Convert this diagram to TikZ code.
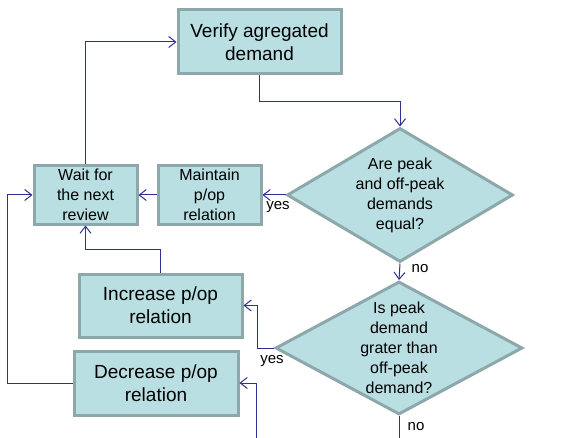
\documentclass[tikz,border=0pt]{standalone}
\usepackage{fontspec}
\setmainfont{Liberation Sans}
\usetikzlibrary{shapes.geometric}
\usetikzlibrary{arrows.meta}
\definecolor{boxfill}{RGB}{185,223,226}
\definecolor{boxline}{RGB}{140,168,170}
\definecolor{flowline}{RGB}{46,49,146}
\tikzset{%
    stepbox/.style={rectangle,draw=boxline,fill=boxfill,line width=3pt,align=center,inner sep=0pt},
    decision/.style={diamond,draw=boxline,fill=boxfill,line width=3pt,inner sep=0pt}
}

\begin{document}
\begin{tikzpicture}[
                x=1pt,y=-1pt,
                flow/.style={draw=flowline,line width=1pt,-{Straight Barb[length=7pt,width=11pt]}},
                bigtxt/.style={font=\fontsize{19}{23}\selectfont},
                smalltxt/.style={font=\fontsize{16}{20}\selectfont},
                lbl/.style={font=\fontsize{15}{18}\selectfont,inner sep=0pt}
            ]
            \useasboundingbox (0,0) rectangle (564,438);
            \node[stepbox,bigtxt,minimum width=163,minimum height=64] (verify) at (259.5,42){Verify agregated\\demand};
            \node[stepbox,smalltxt,minimum width=103,minimum height=58] (wait) at (85.5,195){Wait for\\the next\\review};
            \node[stepbox,smalltxt,minimum width=103,minimum height=58] (maintain) at (209.5,195){Maintain\\p/op\\relation};
            \node[stepbox,bigtxt,minimum width=163,minimum height=63] (increase) at (160.5,305.5){Increase p/op\\relation};
            \node[stepbox,bigtxt,minimum width=164,minimum height=64] (decrease) at (156,383){Decrease p/op\\relation};
            \node[decision,minimum width=226,minimum height=134,
                  label={[smalltxt,align=center]center:{Are peak\\and off-peak\\demands\\equal?}}] (q1) at (400,195){};
            \node[decision,minimum width=247,minimum height=133,
                  label={[smalltxt,align=center]center:{Is peak\\demand\\grater than\\off-peak\\demand?}}] (q2) at (399,348){};
            \coordinate (decin) at (256,438);
            \coordinate (q2out) at (399,438);

            \node[lbl] (yes1) at (278,207){yes};
            \node[lbl] (no1) at (420,269){no};
            \node[lbl] (yes2) at (272,361){yes};
            \node[lbl] (no2) at (416,427){no};

            \draw[flow] (wait.north) |- (verify.west);
            \draw[flow] (verify.south) -- ++(0,26) -| (q1.north);
            \draw[flow] (q1.west) -- (maintain.east);
            \draw[flow] (maintain.west) -- (wait.east);
            \draw[flow] (q1.south) -- (q2.north);
            \draw[flow] (q2.west) -- ++(-17,0) |- (increase.east);
            \draw[flow] (increase.north) -- ++(0,-23) -| (wait.south);
            \draw[flow] (decrease.west) -- ++(-65,0) |- (wait.west);
            \draw[flow] (decin) |- (decrease.east);
            \draw[draw=flowline,line width=1pt] (q2.south) -- (q2out);
        \end{tikzpicture}
\end{document}
